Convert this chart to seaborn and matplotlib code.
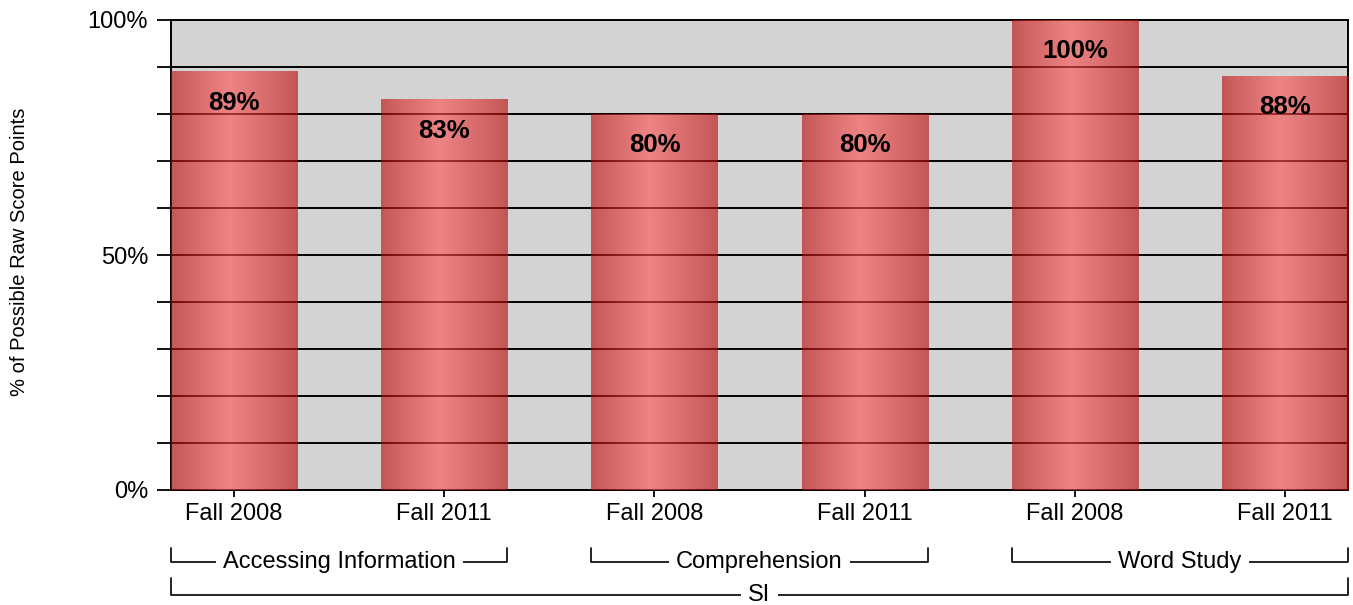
import numpy as np
import pandas as pd
import matplotlib
matplotlib.use("Agg")
import matplotlib.pyplot as plt
import matplotlib.transforms as mtransforms
import seaborn as sns

# Chart data
subjects = ["Accessing Information", "Accessing Information",
            "Comprehension", "Comprehension",
            "Word Study", "Word Study"]
terms = ["Fall 2008", "Fall 2011", "Fall 2008", "Fall 2011", "Fall 2008", "Fall 2011"]
scores = [89, 83, 80, 80, 100, 88]
group_names = ["Accessing Information", "Comprehension", "Word Study"]
overall_name = "SI"
y_ticks = list(range(0, 101, 10))
y_ticklabels = [f"{v}%" if v % 50 == 0 else "" for v in y_ticks]
y_title = "% of Possible Raw Score Points"

sns.set_style("ticks")
plt.rcParams["font.family"] = ["Liberation Sans", "DejaVu Sans"]
plt.rcParams["text.color"] = "black"

df = pd.DataFrame({
    "key": [f"{s} | {t}" for s, t in zip(subjects, terms)],
    "score": scores,
})

fig = plt.figure(figsize=(13.53, 6.05), dpi=100)
ax = fig.add_axes([171 / 1353, 115 / 605, 1177 / 1353, 470 / 605])
ax.set_facecolor("#d3d3d3")

sns.barplot(data=df, x="key", y="score", width=0.6, color="#d06060", ax=ax)

# Horizontal cylinder-style shading, semi-transparent over grid and spines
edge = np.array([185, 8, 8]) / 255
center = np.array([255, 82, 82]) / 255
u = np.linspace(0, 1, 256)
peak = 0.46
t = np.where(u < peak, u / peak, (1 - u) / (1 - peak))
t = np.clip(t, 0, 1) ** 0.9
rgb = edge[None, :] + (center - edge)[None, :] * t[:, None]
rgba = np.concatenate([rgb, np.full((256, 1), 0.62)], axis=1)[None, :, :]

for p in ax.patches:
    x0, w, h = p.get_x(), p.get_width(), p.get_height()
    y0 = p.get_y()
    ax.imshow(rgba, extent=[x0, x0 + w, y0, y0 + h], aspect="auto",
              interpolation="bilinear", zorder=3)
    p.set_facecolor("none")
    p.set_edgecolor("none")

# Value labels inside the bars
for p, v in zip(ax.patches, scores):
    xc = p.get_x() + p.get_width() / 2
    ax.annotate(f"{v}%", (xc, v), xytext=(0, -22.3), textcoords="offset points",
                ha="center", va="center", fontsize=18.5, fontweight="bold",
                color="black", zorder=5)

ax.set_xlim(-0.3, 5.3)
ax.set_ylim(0, 100)
ax.set_yticks(y_ticks)
ax.set_yticklabels(y_ticklabels)
ax.set_xticks(range(len(terms)))
ax.set_xticklabels(terms)
ax.set_xlabel("")
ax.set_ylabel("")

ax.yaxis.grid(True, color="black", linewidth=1.4)
ax.xaxis.grid(False)
ax.set_axisbelow(True)
for s in ax.spines.values():
    s.set_visible(True)
    s.set_color("black")
    s.set_linewidth(1.4)

ax.tick_params(axis="y", length=10, width=1.3, pad=6.5, labelsize=17,
               colors="black", left=True)
ax.tick_params(axis="x", length=4.8, width=1.3, pad=4.5, labelsize=17,
               colors="black", bottom=True)

# Group brackets beneath the axis
trans = mtransforms.blended_transform_factory(ax.transData, ax.transAxes)
line_kw = dict(color="black", linewidth=1.2, transform=trans, clip_on=False)
box = dict(boxstyle="square,pad=0.3", facecolor="white", edgecolor="none")

y_line, y_top = -0.153, -0.123
for gi, name in enumerate(group_names):
    xa, xb = 2 * gi - 0.3, 2 * gi + 1.3
    ax.plot([xa, xa, xb, xb], [y_top, y_line, y_line, y_top], **line_kw)
    ax.text((xa + xb) / 2, y_line, name, transform=trans, ha="center",
            va="center", fontsize=17, color="black", bbox=box, zorder=6)

y_line2, y_top2 = -0.2234, -0.187
ax.plot([-0.3, -0.3, 5.3, 5.3], [y_top2, y_line2, y_line2, y_top2], **line_kw)
ax.text(2.5, y_line2, overall_name, transform=trans, ha="center", va="center",
        fontsize=17, color="black", bbox=box, zorder=6)

fig.text(20 / 1353, 1 - 252 / 605, y_title, rotation=90, ha="center",
         va="center", fontsize=14.5, color="black")

fig.savefig("out.png", dpi=100)
